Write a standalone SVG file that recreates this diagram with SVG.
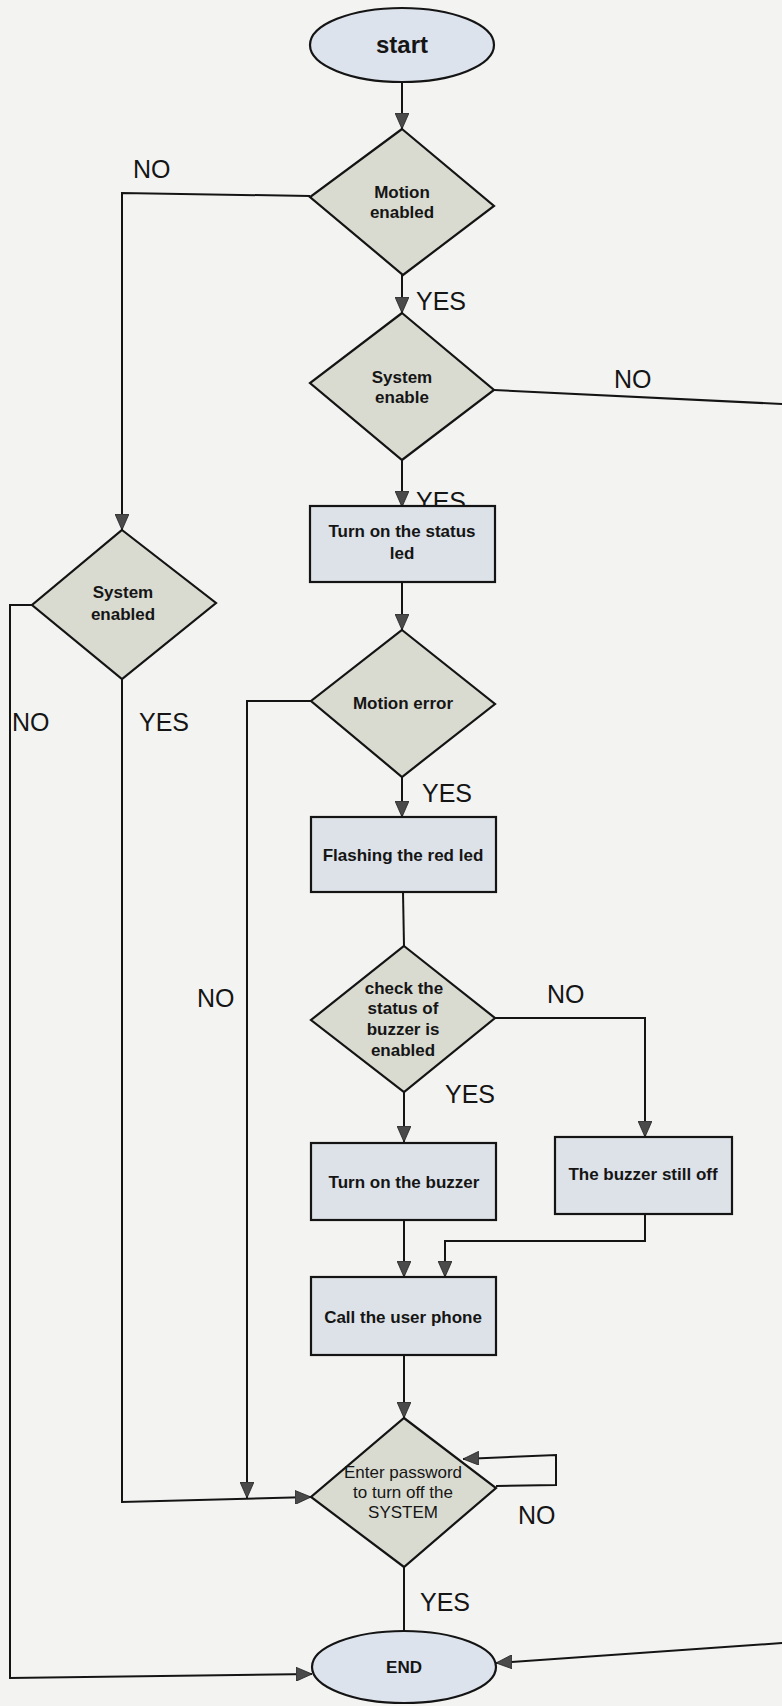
<svg xmlns="http://www.w3.org/2000/svg" width="782" height="1706" viewBox="0 0 782 1706">
<style>
.dia{fill:#d9dbd1;stroke:#141414;stroke-width:2.2}
.box{fill:#dce2e7;stroke:#141414;stroke-width:2.2}
.ell{fill:#dde3ec;stroke:#141414;stroke-width:2.2}
.ln{fill:none;stroke:#141414;stroke-width:2}
.arr{marker-end:url(#ah)}
.t{font-family:"Liberation Sans",Arial,sans-serif;font-size:17px;font-weight:bold;fill:#151515;text-anchor:middle}
.tr{font-family:"Liberation Sans",Arial,sans-serif;font-size:17px;fill:#151515;text-anchor:middle}
.lbl{font-family:"Liberation Sans",Arial,sans-serif;font-size:25px;fill:#151515}
</style>
<defs>
<marker id="ah" viewBox="0 0 16 14" refX="16" refY="7" markerWidth="16" markerHeight="14" orient="auto" markerUnits="userSpaceOnUse">
<path d="M0,0 L16,7 L0,14 z" fill="#4a4a4a" stroke="#222" stroke-width="0.8"/>
</marker>
</defs>
<rect x="0" y="0" width="782" height="1706" fill="#f3f4f2"/>
<g id="connectors">
<line class="ln arr" x1="402" y1="82" x2="402" y2="129"/>
<polyline class="ln arr" points="310,196 122,193 122,530"/>
<text class="lbl" x="133" y="178">NO</text>
<line class="ln arr" x1="402" y1="275" x2="402" y2="313"/>
<text class="lbl" x="416" y="310">YES</text>
<line class="ln" x1="494" y1="390" x2="782" y2="404"/>
<text class="lbl" x="614" y="388">NO</text>
<line class="ln arr" x1="402" y1="460" x2="402" y2="507"/>
<text class="lbl" x="416" y="510">YES</text>
<line class="ln arr" x1="402" y1="582" x2="402" y2="630"/>
<polyline class="ln arr" points="311,701 247,701 247,1498"/>
<line class="ln arr" x1="402" y1="777" x2="402" y2="817"/>
<text class="lbl" x="422" y="802">YES</text>
<line class="ln" x1="403" y1="892" x2="404" y2="946"/>
<polyline class="ln arr" points="495,1018 645,1018 645,1137"/>
<text class="lbl" x="547" y="1003">NO</text>
<text class="lbl" x="197" y="1007">NO</text>
<line class="ln arr" x1="404" y1="1092" x2="404" y2="1142"/>
<text class="lbl" x="445" y="1103">YES</text>
<polyline class="ln arr" points="645,1214 645,1241 445,1241 445,1277"/>
<line class="ln arr" x1="404" y1="1220" x2="404" y2="1277"/>
<line class="ln arr" x1="404" y1="1355" x2="404" y2="1418"/>
<polyline class="ln arr" points="496,1486 556,1485 556,1455 463,1459"/>
<text class="lbl" x="518" y="1524">NO</text>
<line class="ln" x1="404" y1="1567" x2="404" y2="1632"/>
<text class="lbl" x="420" y="1611">YES</text>
<polyline class="ln arr" points="32,605 10,605 10,1678 312,1674"/>
<text class="lbl" x="12" y="731">NO</text>
<polyline class="ln arr" points="122,679 122,1502 311,1497"/>
<text class="lbl" x="139" y="731">YES</text>
<line class="ln arr" x1="782" y1="1643" x2="496" y2="1663"/>
</g>
<g id="start">
<ellipse class="ell" cx="402" cy="45" rx="92" ry="37"/>
<text class="t" x="402" y="53" style="font-size:24px">start</text>
</g>
<g id="motion-enabled">
<polygon class="dia" points="402,129 494,206 403,275 310,197"/>
<text class="t" x="402" y="198">Motion</text>
<text class="t" x="402" y="218">enabled</text>
</g>
<g id="system-enable">
<polygon class="dia" points="402,313 494,390 402,460 310,383"/>
<text class="t" x="402" y="383">System</text>
<text class="t" x="402" y="403">enable</text>
</g>
<g id="status-led">
<rect class="box" x="310" y="506" width="185" height="76"/>
<text class="t" x="402" y="537">Turn on the status</text>
<text class="t" x="402" y="559">led</text>
</g>
<g id="system-enabled">
<polygon class="dia" points="122,530 216,603 122,679 32,605"/>
<text class="t" x="123" y="598">System</text>
<text class="t" x="123" y="620">enabled</text>
</g>
<g id="motion-error">
<polygon class="dia" points="402,630 495,704 402,777 311,701"/>
<text class="t" x="403" y="709">Motion error</text>
</g>
<g id="flashing">
<rect class="box" x="311" y="817" width="185" height="75"/>
<text class="t" x="403" y="861">Flashing the red led</text>
</g>
<g id="check-buzzer">
<polygon class="dia" points="404,946 495,1018 404,1092 311,1020"/>
<text class="t" x="404" y="994">check the</text>
<text class="t" x="403" y="1014">status of</text>
<text class="t" x="403" y="1035">buzzer is</text>
<text class="t" x="403" y="1056">enabled</text>
</g>
<g id="turn-on-buzzer">
<rect class="box" x="311" y="1143" width="185" height="77"/>
<text class="t" x="404" y="1188">Turn on the buzzer</text>
</g>
<g id="buzzer-off">
<rect class="box" x="555" y="1137" width="177" height="77"/>
<text class="t" x="643" y="1180">The buzzer still off</text>
</g>
<g id="call-phone">
<rect class="box" x="311" y="1277" width="185" height="78"/>
<text class="t" x="403" y="1323">Call the user phone</text>
</g>
<g id="enter-password">
<polygon class="dia" points="404,1418 496,1488 404,1567 311,1497"/>
<text class="tr" x="403" y="1478">Enter password</text>
<text class="tr" x="403" y="1498">to turn off the</text>
<text class="tr" x="403" y="1518">SYSTEM</text>
</g>
<g id="end">
<ellipse class="ell" cx="404" cy="1667" rx="92" ry="36"/>
<text class="t" x="404" y="1673">END</text>
</g>
</svg>
